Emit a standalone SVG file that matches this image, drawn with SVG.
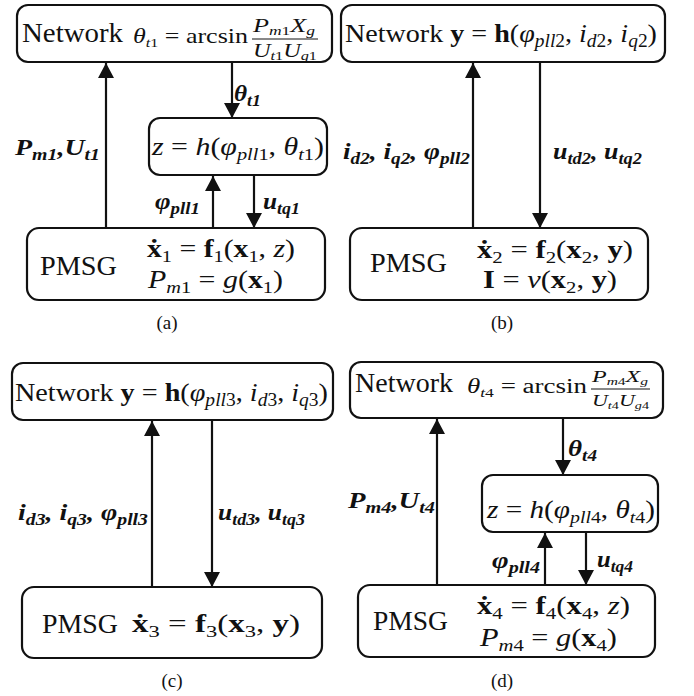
<svg xmlns="http://www.w3.org/2000/svg" width="694" height="696" viewBox="0 0 694 696">
<style>
text{font-family:"Liberation Serif","Times New Roman",serif;fill:#111}
.box{fill:#fff;stroke:#111;stroke-width:2.2}
.conn line{stroke:#111;stroke-width:2.2}
.frac{stroke:#111;stroke-width:1}
.i{font-style:italic}
.b{font-weight:bold}
.lbl{font-weight:bold;font-style:italic;font-size:24px}
.cap{font-size:19px}
</style>
<defs>
<marker id="ah" markerUnits="userSpaceOnUse" viewBox="0 0 15 16" refX="15" refY="8" markerWidth="15" markerHeight="16" orient="auto"><path d="M0,0L15,8L0,16z" fill="#111"/></marker>
</defs>

<g class="conn" id="connectors">
<line x1="106" y1="228" x2="106" y2="63" marker-end="url(#ah)"/>
<line x1="232" y1="62" x2="232" y2="118" marker-end="url(#ah)"/>
<line x1="213" y1="228" x2="213" y2="176" marker-end="url(#ah)"/>
<line x1="254" y1="175" x2="254" y2="228" marker-end="url(#ah)"/>
<line x1="473" y1="228" x2="473" y2="63" marker-end="url(#ah)"/>
<line x1="540" y1="62" x2="540" y2="228" marker-end="url(#ah)"/>
<line x1="152" y1="587" x2="152" y2="421" marker-end="url(#ah)"/>
<line x1="212" y1="420" x2="212" y2="587" marker-end="url(#ah)"/>
<line x1="437" y1="585" x2="437" y2="419" marker-end="url(#ah)"/>
<line x1="563" y1="418" x2="563" y2="475" marker-end="url(#ah)"/>
<line x1="545" y1="585" x2="545" y2="533" marker-end="url(#ah)"/>
<line x1="586" y1="532" x2="586" y2="585" marker-end="url(#ah)"/>
</g>

<g id="labels">
<text class="lbl" x="15" y="155" textLength="85" lengthAdjust="spacingAndGlyphs">P<tspan dy="5" font-size="17">m1</tspan><tspan dy="-5">,U</tspan><tspan dy="5" font-size="17">t1</tspan></text>
<text class="lbl" x="234" y="101" textLength="27" lengthAdjust="spacingAndGlyphs">θ<tspan dy="5" font-size="17">t1</tspan></text>
<text class="lbl" x="155" y="209" textLength="45" lengthAdjust="spacingAndGlyphs">φ<tspan dy="5" font-size="17">pll1</tspan></text>
<text class="lbl" x="263" y="209" textLength="37" lengthAdjust="spacingAndGlyphs">u<tspan dy="5" font-size="17">tq1</tspan></text>

<text class="lbl" x="343" y="159" textLength="127" lengthAdjust="spacingAndGlyphs">i<tspan dy="5" font-size="17">d2</tspan><tspan dy="-5">, i</tspan><tspan dy="5" font-size="17">q2</tspan><tspan dy="-5">, φ</tspan><tspan dy="5" font-size="17">pll2</tspan></text>
<text class="lbl" x="553" y="159" textLength="89" lengthAdjust="spacingAndGlyphs">u<tspan dy="5" font-size="17">td2</tspan><tspan dy="-5">, u</tspan><tspan dy="5" font-size="17">tq2</tspan></text>

<text class="lbl" x="18" y="520" textLength="130" lengthAdjust="spacingAndGlyphs">i<tspan dy="5" font-size="17">d3</tspan><tspan dy="-5">, i</tspan><tspan dy="5" font-size="17">q3</tspan><tspan dy="-5">, φ</tspan><tspan dy="5" font-size="17">pll3</tspan></text>
<text class="lbl" x="218" y="520" textLength="87" lengthAdjust="spacingAndGlyphs">u<tspan dy="5" font-size="17">td3</tspan><tspan dy="-5">, u</tspan><tspan dy="5" font-size="17">tq3</tspan></text>

<text class="lbl" x="348" y="508" textLength="87" lengthAdjust="spacingAndGlyphs">P<tspan dy="5" font-size="17">m4</tspan><tspan dy="-5">,U</tspan><tspan dy="5" font-size="17">t4</tspan></text>
<text class="lbl" x="568" y="456" textLength="29" lengthAdjust="spacingAndGlyphs">θ<tspan dy="5" font-size="17">t4</tspan></text>
<text class="lbl" x="492" y="568" textLength="48" lengthAdjust="spacingAndGlyphs">φ<tspan dy="5" font-size="17">pll4</tspan></text>
<text class="lbl" x="597" y="567" textLength="36" lengthAdjust="spacingAndGlyphs">u<tspan dy="5" font-size="17">tq4</tspan></text>
</g>

<!-- Panel (a) -->
<g id="a-network">
<rect class="box" x="17" y="5" width="315" height="57" rx="11"/>
<text x="22" y="42" font-size="27" textLength="101" lengthAdjust="spacingAndGlyphs">Network</text>
<text x="133" y="43" font-size="21" textLength="115" lengthAdjust="spacingAndGlyphs"><tspan class="i">θ</tspan><tspan dy="4" font-size="13" class="i">t</tspan><tspan font-size="13">1</tspan><tspan dy="-4"> = arcsin</tspan></text>
<text x="253" y="32" font-size="18" textLength="62" lengthAdjust="spacingAndGlyphs"><tspan class="i">P</tspan><tspan dy="3" font-size="12" class="i">m</tspan><tspan font-size="12">1</tspan><tspan dy="-3" class="i">X</tspan><tspan dy="3" font-size="12" class="i">g</tspan></text>
<line class="frac" x1="252" y1="39" x2="318" y2="39"/>
<text x="253" y="57" font-size="18" textLength="64" lengthAdjust="spacingAndGlyphs"><tspan class="i">U</tspan><tspan dy="3" font-size="12" class="i">t</tspan><tspan font-size="12">1</tspan><tspan dy="-3" class="i">U</tspan><tspan dy="3" font-size="12" class="i">g</tspan><tspan font-size="12">1</tspan></text>
</g>
<g id="a-z">
<rect class="box" x="149" y="118" width="178" height="57" rx="11"/>
<text x="152" y="155" font-size="25" textLength="172" lengthAdjust="spacingAndGlyphs"><tspan class="i">z</tspan> = <tspan class="i">h</tspan>(<tspan class="i">φ</tspan><tspan dy="5" font-size="17" class="i">pll</tspan><tspan font-size="17">1</tspan><tspan dy="-5">, </tspan><tspan class="i">θ</tspan><tspan dy="5" font-size="17" class="i">t</tspan><tspan font-size="17">1</tspan><tspan dy="-5">)</tspan></text>
</g>
<g id="a-pmsg">
<rect class="box" x="27" y="228" width="298" height="72" rx="12"/>
<text x="40" y="275" font-size="27" textLength="77" lengthAdjust="spacingAndGlyphs">PMSG</text>
<text x="147" y="257" font-size="25" textLength="148" lengthAdjust="spacingAndGlyphs"><tspan class="b">ẋ</tspan><tspan dy="5" font-size="17">1</tspan><tspan dy="-5"> = </tspan><tspan class="b">f</tspan><tspan dy="5" font-size="17">1</tspan><tspan dy="-5">(</tspan><tspan class="b">x</tspan><tspan dy="5" font-size="17">1</tspan><tspan dy="-5">, </tspan><tspan class="i">z</tspan>)</text>
<text x="148" y="288" font-size="25" textLength="135" lengthAdjust="spacingAndGlyphs"><tspan class="i">P</tspan><tspan dy="5" font-size="17" class="i">m</tspan><tspan font-size="17">1</tspan><tspan dy="-5"> = </tspan><tspan class="i">g</tspan>(<tspan class="b">x</tspan><tspan dy="5" font-size="17">1</tspan><tspan dy="-5">)</tspan></text>
</g>
<text class="cap" x="167" y="329" text-anchor="middle">(a)</text>

<!-- Panel (b) -->
<g id="b-network">
<rect class="box" x="341" y="5" width="324" height="57" rx="11"/>
<text x="345" y="42" font-size="26" textLength="312" lengthAdjust="spacingAndGlyphs">Network <tspan class="b">y</tspan> = <tspan class="b">h</tspan>(<tspan class="i">φ</tspan><tspan dy="5" font-size="18" class="i">pll</tspan><tspan font-size="18">2</tspan><tspan dy="-5">, </tspan><tspan class="i">i</tspan><tspan dy="5" font-size="18" class="i">d</tspan><tspan font-size="18">2</tspan><tspan dy="-5">, </tspan><tspan class="i">i</tspan><tspan dy="5" font-size="18" class="i">q</tspan><tspan font-size="18">2</tspan><tspan dy="-5">)</tspan></text>
</g>
<g id="b-pmsg">
<rect class="box" x="350" y="228" width="298" height="72" rx="12"/>
<text x="370" y="272" font-size="27" textLength="77" lengthAdjust="spacingAndGlyphs">PMSG</text>
<text x="477" y="258" font-size="25" textLength="156" lengthAdjust="spacingAndGlyphs"><tspan class="b">ẋ</tspan><tspan dy="5" font-size="17">2</tspan><tspan dy="-5"> = </tspan><tspan class="b">f</tspan><tspan dy="5" font-size="17">2</tspan><tspan dy="-5">(</tspan><tspan class="b">x</tspan><tspan dy="5" font-size="17">2</tspan><tspan dy="-5">, </tspan><tspan class="b">y</tspan>)</text>
<text x="483" y="288" font-size="25" textLength="134" lengthAdjust="spacingAndGlyphs"><tspan class="b">I</tspan> = <tspan class="i">v</tspan>(<tspan class="b">x</tspan><tspan dy="5" font-size="17">2</tspan><tspan dy="-5">, </tspan><tspan class="b">y</tspan>)</text>
</g>
<text class="cap" x="502" y="329" text-anchor="middle">(b)</text>

<!-- Panel (c) -->
<g id="c-network">
<rect class="box" x="12" y="363" width="321" height="57" rx="11"/>
<text x="15" y="401" font-size="26" textLength="313" lengthAdjust="spacingAndGlyphs">Network <tspan class="b">y</tspan> = <tspan class="b">h</tspan>(<tspan class="i">φ</tspan><tspan dy="5" font-size="18" class="i">pll</tspan><tspan font-size="18">3</tspan><tspan dy="-5">, </tspan><tspan class="i">i</tspan><tspan dy="5" font-size="18" class="i">d</tspan><tspan font-size="18">3</tspan><tspan dy="-5">, </tspan><tspan class="i">i</tspan><tspan dy="5" font-size="18" class="i">q</tspan><tspan font-size="18">3</tspan><tspan dy="-5">)</tspan></text>
</g>
<g id="c-pmsg">
<rect class="box" x="22" y="587" width="300" height="71" rx="12"/>
<text x="42" y="633" font-size="27" textLength="76" lengthAdjust="spacingAndGlyphs">PMSG</text>
<text x="132" y="632" font-size="25" textLength="168" lengthAdjust="spacingAndGlyphs"><tspan class="b">ẋ</tspan><tspan dy="5" font-size="17">3</tspan><tspan dy="-5"> = </tspan><tspan class="b">f</tspan><tspan dy="5" font-size="17">3</tspan><tspan dy="-5">(</tspan><tspan class="b">x</tspan><tspan dy="5" font-size="17">3</tspan><tspan dy="-5">, </tspan><tspan class="b">y</tspan>)</text>
</g>
<text class="cap" x="172" y="687" text-anchor="middle">(c)</text>

<!-- Panel (d) -->
<g id="d-network">
<rect class="box" x="350" y="362" width="313" height="56" rx="11"/>
<text x="355" y="392" font-size="27" textLength="98" lengthAdjust="spacingAndGlyphs">Network</text>
<text x="467" y="393" font-size="20" textLength="120" lengthAdjust="spacingAndGlyphs"><tspan class="i">θ</tspan><tspan dy="4" font-size="13" class="i">t</tspan><tspan font-size="13">4</tspan><tspan dy="-4"> = arcsin</tspan></text>
<text x="592" y="382" font-size="17" textLength="56" lengthAdjust="spacingAndGlyphs"><tspan class="i">P</tspan><tspan dy="3" font-size="11" class="i">m</tspan><tspan font-size="11">4</tspan><tspan dy="-3" class="i">X</tspan><tspan dy="3" font-size="11" class="i">g</tspan></text>
<line class="frac" x1="591" y1="389" x2="650" y2="389"/>
<text x="592" y="406" font-size="17" textLength="57" lengthAdjust="spacingAndGlyphs"><tspan class="i">U</tspan><tspan dy="3" font-size="11" class="i">t</tspan><tspan font-size="11">4</tspan><tspan dy="-3" class="i">U</tspan><tspan dy="3" font-size="11" class="i">g</tspan><tspan font-size="11">4</tspan></text>
</g>
<g id="d-z">
<rect class="box" x="482" y="475" width="176" height="57" rx="11"/>
<text x="487" y="518" font-size="25" textLength="168" lengthAdjust="spacingAndGlyphs"><tspan class="i">z</tspan> = <tspan class="i">h</tspan>(<tspan class="i">φ</tspan><tspan dy="5" font-size="17" class="i">pll</tspan><tspan font-size="17">4</tspan><tspan dy="-5">, </tspan><tspan class="i">θ</tspan><tspan dy="5" font-size="17" class="i">t</tspan><tspan font-size="17">4</tspan><tspan dy="-5">)</tspan></text>
</g>
<g id="d-pmsg">
<rect class="box" x="358" y="585" width="297" height="72" rx="12"/>
<text x="373" y="630" font-size="27" textLength="75" lengthAdjust="spacingAndGlyphs">PMSG</text>
<text x="477" y="614" font-size="25" textLength="153" lengthAdjust="spacingAndGlyphs"><tspan class="b">ẋ</tspan><tspan dy="5" font-size="17">4</tspan><tspan dy="-5"> = </tspan><tspan class="b">f</tspan><tspan dy="5" font-size="17">4</tspan><tspan dy="-5">(</tspan><tspan class="b">x</tspan><tspan dy="5" font-size="17">4</tspan><tspan dy="-5">, </tspan><tspan class="i">z</tspan>)</text>
<text x="480" y="646" font-size="25" textLength="137" lengthAdjust="spacingAndGlyphs"><tspan class="i">P</tspan><tspan dy="5" font-size="17" class="i">m</tspan><tspan font-size="17">4</tspan><tspan dy="-5"> = </tspan><tspan class="i">g</tspan>(<tspan class="b">x</tspan><tspan dy="5" font-size="17">4</tspan><tspan dy="-5">)</tspan></text>
</g>
<text class="cap" x="502" y="687" text-anchor="middle">(d)</text>
</svg>
